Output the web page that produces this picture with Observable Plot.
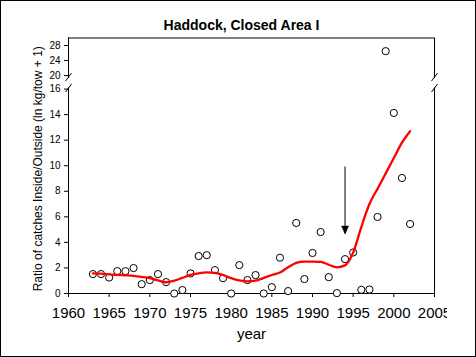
<!DOCTYPE html>
<html>
<head>
<meta charset="utf-8">
<script src="https://cdn.jsdelivr.net/npm/d3@7"></script>
<script src="https://cdn.jsdelivr.net/npm/@observablehq/plot@0.6"></script>
<style>
  html, body { margin: 0; padding: 0; background: white; }
  #wrap { position: relative; width: 476px; height: 357px; overflow: hidden; }
  #clip { position: absolute; left: 0; top: 0; width: 447px; height: 357px; overflow: hidden; }
  #clip svg { max-width: none !important; width: 476px !important; height: 357px !important; }
  #border { position: absolute; left: 0; top: 0; width: 476px; height: 357px; box-sizing: border-box; border: 1px solid black; pointer-events: none; }
</style>
</head>
<body>
<div id="wrap"><div id="clip"></div><div id="border"></div></div>
<script>
const titleText = "Haddock, Closed Area I";
const xLabel = "year";
const yLabel = "Ratio of catches Inside/Outside (ln kg/tow + 1)";

const years = [1963,1964,1965,1966,1967,1968,1969,1970,1971,1972,1973,1974,1975,1976,1977,1978,1979,1980,1981,1982,
               1983,1984,1985,1986,1987,1988,1989,1990,1991,1992,1993,1994,1995,1996,1997,1998,1999,2000,2001,2002];
const ratio = [1.52,1.52,1.25,1.75,1.75,1.99,0.73,1.05,1.52,0.89,0.0,0.27,1.57,2.93,3.0,1.83,1.2,0.0,2.22,1.05,
               1.44,0.0,0.5,2.8,0.19,5.52,1.13,3.17,4.81,1.28,0.03,2.69,3.21,0.29,0.31,5.99,26.5,14.13,9.04,5.44];
const smooth = [1.57,1.55,1.5,1.45,1.42,1.38,1.3,1.2,1.02,0.88,1.0,1.22,1.45,1.58,1.65,1.62,1.45,1.2,1.02,0.95,
                1.0,1.22,1.45,1.65,2.05,2.4,2.5,2.5,2.48,2.25,2.05,2.2,3.2,5.2,7.0,8.2,9.4,10.6,11.8,12.7];

const xTicks = [1960,1965,1970,1975,1980,1985,1990,1995,2000,2005];
const yTicks = [0,2,4,6,8,10,12,14,16,20,24,28];
const xDomain = [1960, 2005];
// broken y axis: lower part 0–16, upper part 19.2–30 (compressed)
const lowerDomain = [0, 16];
const upperDomain = [19.2, 30];
const gapUnits = 0.82;        // empty space between the two parts, in lower-axis units
const upperFactor = 0.294;    // upper part compression relative to lower part
const slashLevels = [16.08, 19.6];

const arrowYear = [1994];
const arrowFrom = [9.9];
const arrowTo = [4.65];

// map a real value onto the continuous broken-axis coordinate
const brk = v => v < upperDomain[0] ? v
  : lowerDomain[1] + gapUnits + (v - upperDomain[0]) * upperFactor;
const unbrk = u => u <= lowerDomain[1] + 1e-9 ? u
  : upperDomain[0] + (u - lowerDomain[1] - gapUnits) / upperFactor;

const pts = years.map((year, i) => ({year, value: brk(ratio[i])}));
const fit = years.map((year, i) => ({year, value: brk(smooth[i])}));
const axisSegs = [];
for (const x of xDomain) {
  axisSegs.push({x, y1: brk(lowerDomain[0]), y2: brk(slashLevels[0])});
  axisSegs.push({x, y1: brk(upperDomain[0]), y2: brk(upperDomain[1])});
}
const slashes = [];
for (const x of xDomain) for (const y of slashLevels) slashes.push({x, y: brk(y)});
const arrows = arrowYear.map((x, i) => ({x, from: brk(arrowFrom[i]), to: brk(arrowTo[i])}));

const slashSymbol = { draw(ctx) { ctx.moveTo(-3, 4); ctx.lineTo(3, -4); } };
const headSymbol = { draw(ctx) { ctx.moveTo(0, 0); ctx.lineTo(-3.5, -8); ctx.lineTo(3.5, -8); ctx.closePath(); } };

const chart = Plot.plot({
  width: 476,
  height: 357,
  marginLeft: 68,
  marginRight: 42,
  marginTop: 37.5,
  marginBottom: 64,
  style: {fontFamily: "'Liberation Sans', Arial, sans-serif", background: "white", color: "black", overflow: "visible", maxWidth: "none"},
  x: {domain: xDomain},
  y: {domain: [brk(lowerDomain[0]), brk(upperDomain[1])]},
  marks: [
    Plot.ruleY([brk(0)], {x1: xDomain[0], x2: xDomain[1], stroke: "black"}),
    Plot.ruleY([brk(upperDomain[1])], {x1: xDomain[0], x2: xDomain[1], stroke: "black"}),
    Plot.ruleX(axisSegs, {x: "x", y1: "y1", y2: "y2", stroke: "black"}),
    Plot.dot(slashes, {x: "x", y: "y", symbol: slashSymbol, stroke: "black", strokeWidth: 1, r: 4}),
    Plot.axisX({ticks: xTicks, tickSize: 4, tickPadding: 10, fontSize: 15, label: null, tickFormat: d => String(d)}),
    Plot.axisY({ticks: yTicks.map(brk), tickSize: 4, tickPadding: 4, fontSize: 10, label: null, tickFormat: u => String(Math.round(unbrk(u)))}),
    Plot.dot(pts, {x: "year", y: "value", r: 3.6, stroke: "black", fill: "white", strokeWidth: 1}),
    Plot.line(fit, {x: "year", y: "value", stroke: "#ff0000", strokeWidth: 2.3, curve: "monotone-x"}),
    Plot.ruleX(arrows, {x: "x", y1: "from", y2: "to", stroke: "black", strokeWidth: 1}),
    Plot.dot(arrows, {x: "x", y: "to", symbol: headSymbol, fill: "black", stroke: "black", strokeWidth: 0.5}),
    Plot.text([titleText], {frameAnchor: "top", dy: -18, dx: -10, fontSize: 14, fontWeight: "bold", text: d => d, fill: "black"}),
    Plot.text([xLabel], {frameAnchor: "bottom", dy: 45, fontSize: 15, text: d => d, fill: "black"}),
    Plot.text([yLabel], {frameAnchor: "left", textAnchor: "middle", dx: -30, dy: 3, rotate: -90, fontSize: 12, text: d => d, fill: "black"})
  ]
});
document.getElementById("clip").appendChild(chart);
</script>
</body>
</html>
